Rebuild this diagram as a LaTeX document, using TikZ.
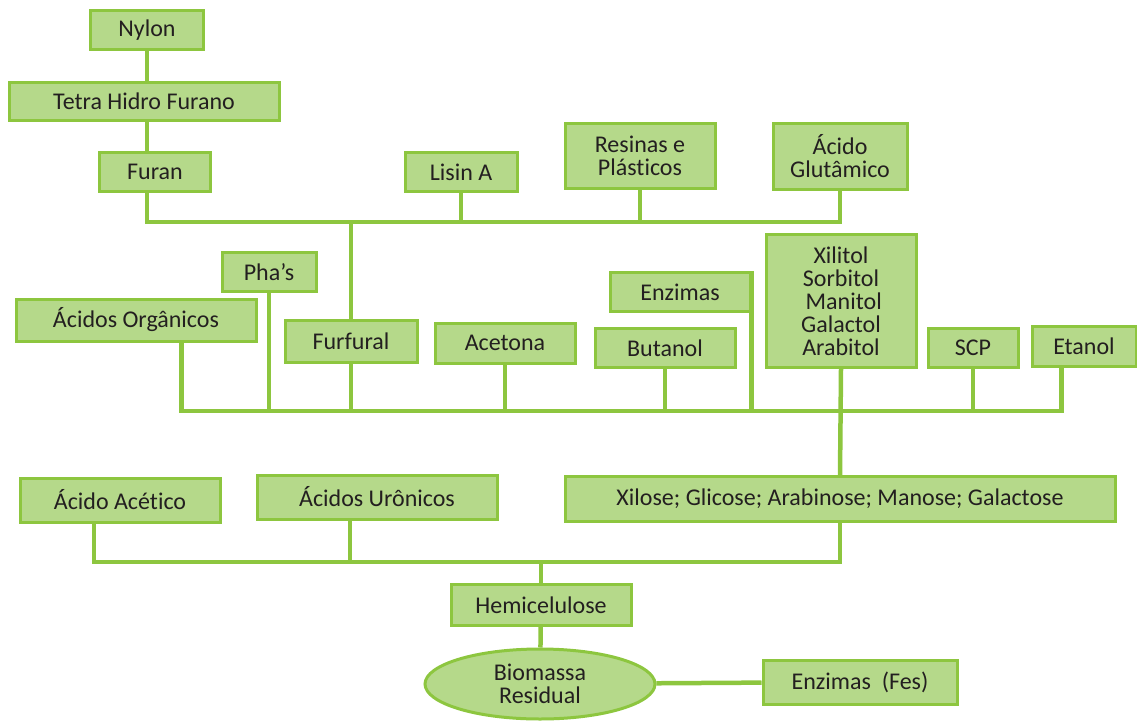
\documentclass[tikz,border=0pt]{standalone}
\usepackage{fontspec}
\setmainfont{Carlito}[Ligatures={NoCommon}]
\usetikzlibrary{positioning}
\usetikzlibrary{shapes.geometric}
\definecolor{leaf}{RGB}{141,198,63}
\definecolor{leaffill}{RGB}{181,217,138}
\definecolor{ink}{RGB}{35,31,32}
\begin{document}
\begin{tikzpicture}[x=1pt,y=-1pt,line width=4.5pt,draw=leaf]
\tikzstyle{v}=[rectangle,draw=leaf,fill=leaffill,line width=3pt,text=ink,inner sep=0pt,align=center,font=\fontsize{24}{23}\selectfont]
\tikzstyle{o}=[v,ellipse]
\useasboundingbox (0,0) rectangle (1137,720);
% upper branch
\node[v,minimum width=113pt,minimum height=39pt]	(Nylon)		at (147,30)		{Nylon};
\node[v,minimum width=270pt,minimum height=38pt]	(Tetra)		at (144,101)	{Tetra Hidro Furano};
\node[v,minimum width=111pt,minimum height=39pt]	(Furan)		at (155,172)	{Furan};
\node[v,minimum width=112pt,minimum height=39pt]	(Lisin)		at (461,172)	{Lisin A};
\node[v,minimum width=150pt,minimum height=65pt]	(Resinas)	at (640,156)	{Resinas e\\Plásticos};
\node[v,minimum width=134pt,minimum height=66pt]	(Glutamico)	at (840,156)	{Ácido\\Glutâmico};
% middle row
\node[v,minimum width=94pt,minimum height=39pt]		(Phas)		at (269,272)	{Pha’s};
\node[v,minimum width=240pt,minimum height=42pt]	(Organicos)	at (136,320)	{Ácidos Orgânicos};
\node[v,minimum width=132pt,minimum height=42pt]	(Furfural)	at (351,341)	{Furfural};
\node[v,minimum width=140pt,minimum height=40pt]	(Acetona)	at (505,343)	{Acetona};
\node[v,minimum width=140pt,minimum height=39pt]	(Enzimas)	at (680,292)	{Enzimas};
\node[v,minimum width=140pt,minimum height=39pt]	(Butanol)	at (665,348)	{Butanol};
\node[v,minimum width=150pt,minimum height=133pt]	(Xilitol)	at (841,301)	{Xilitol\\Sorbitol\\\ Manitol\\Galactol\\Arabitol};
\node[v,minimum width=90pt,minimum height=39pt]		(SCP)		at (973,348)	{SCP};
\node[v,minimum width=104pt,minimum height=40pt]	(Etanol)	at (1084,346)	{Etanol};
% sugars row
\node[v,minimum width=200pt,minimum height=44pt]	(Acetico)	at (120,500)	{Ácido Acético};
\node[v,minimum width=240pt,minimum height=44pt]	(Uronicos)	at (377,497)	{Ácidos Urônicos};
\node[v,minimum width=550pt,minimum height=45pt]	(Xilose)	at (840,499)	{Xilose; Glicose; Arabinose; Manose; Galactose};
% base
\node[v,minimum width=180pt,minimum height=41pt]	(Hemi)		at (541,605)	{Hemicelulose};
\node[o,minimum width=230pt,minimum height=70pt]	(Biomassa)	at (540,684)	{Biomassa\\Residual};
\node[v,minimum width=194pt,minimum height=44pt]	(EnzFes)	at (860,682)	{Enzimas~~(Fes)};
% buses
\coordinate (topbus) at (0,222);
\coordinate (midbus) at (0,411);
\coordinate (lowbus) at (0,562);
\coordinate (spine) at (147,0);
\coordinate (orgdrop) at ([xshift=167pt]Organicos.south west);
\coordinate (etadrop) at ([xshift=31pt]Etanol.south west);
\coordinate (acedrop) at ([xshift=-26pt]Acetico.south);
\coordinate (urodrop) at ([xshift=-27pt]Uronicos.south);
\draw (Nylon.south -| spine) -- (Tetra.north -| spine);
\draw (Tetra.south -| spine) -- (Furan.north -| spine);
\draw (Furan.south -| spine) |- (Glutamico.south |- topbus) -- (Glutamico.south);
\draw (Lisin.south) -- (Lisin.south |- topbus);
\draw (Resinas.south) -- (Resinas.south |- topbus);
\draw (Furfural.north) -- (Furfural.north |- topbus);
\draw (orgdrop) |- (etadrop |- midbus) -- (etadrop);
\draw (Phas.south) -- (Phas.south |- midbus);
\draw (Furfural.south) -- (Furfural.south |- midbus);
\draw (Acetona.south) -- (Acetona.south |- midbus);
\draw (Butanol.south) -- (Butanol.south |- midbus);
\draw (Enzimas.north east) -- (Enzimas.north east |- midbus);
\draw (SCP.south) -- (SCP.south |- midbus);
\draw (Xilitol.south) -- (Xilose.north);
\draw (acedrop) |- (Xilose.south |- lowbus) -- (Xilose.south);
\draw (urodrop) -- (urodrop |- lowbus);
\draw (Hemi.north) -- (Hemi.north |- lowbus);
\draw (Hemi) -- (Biomassa);
\draw (Biomassa) -- (EnzFes);
\end{tikzpicture}
\end{document}
